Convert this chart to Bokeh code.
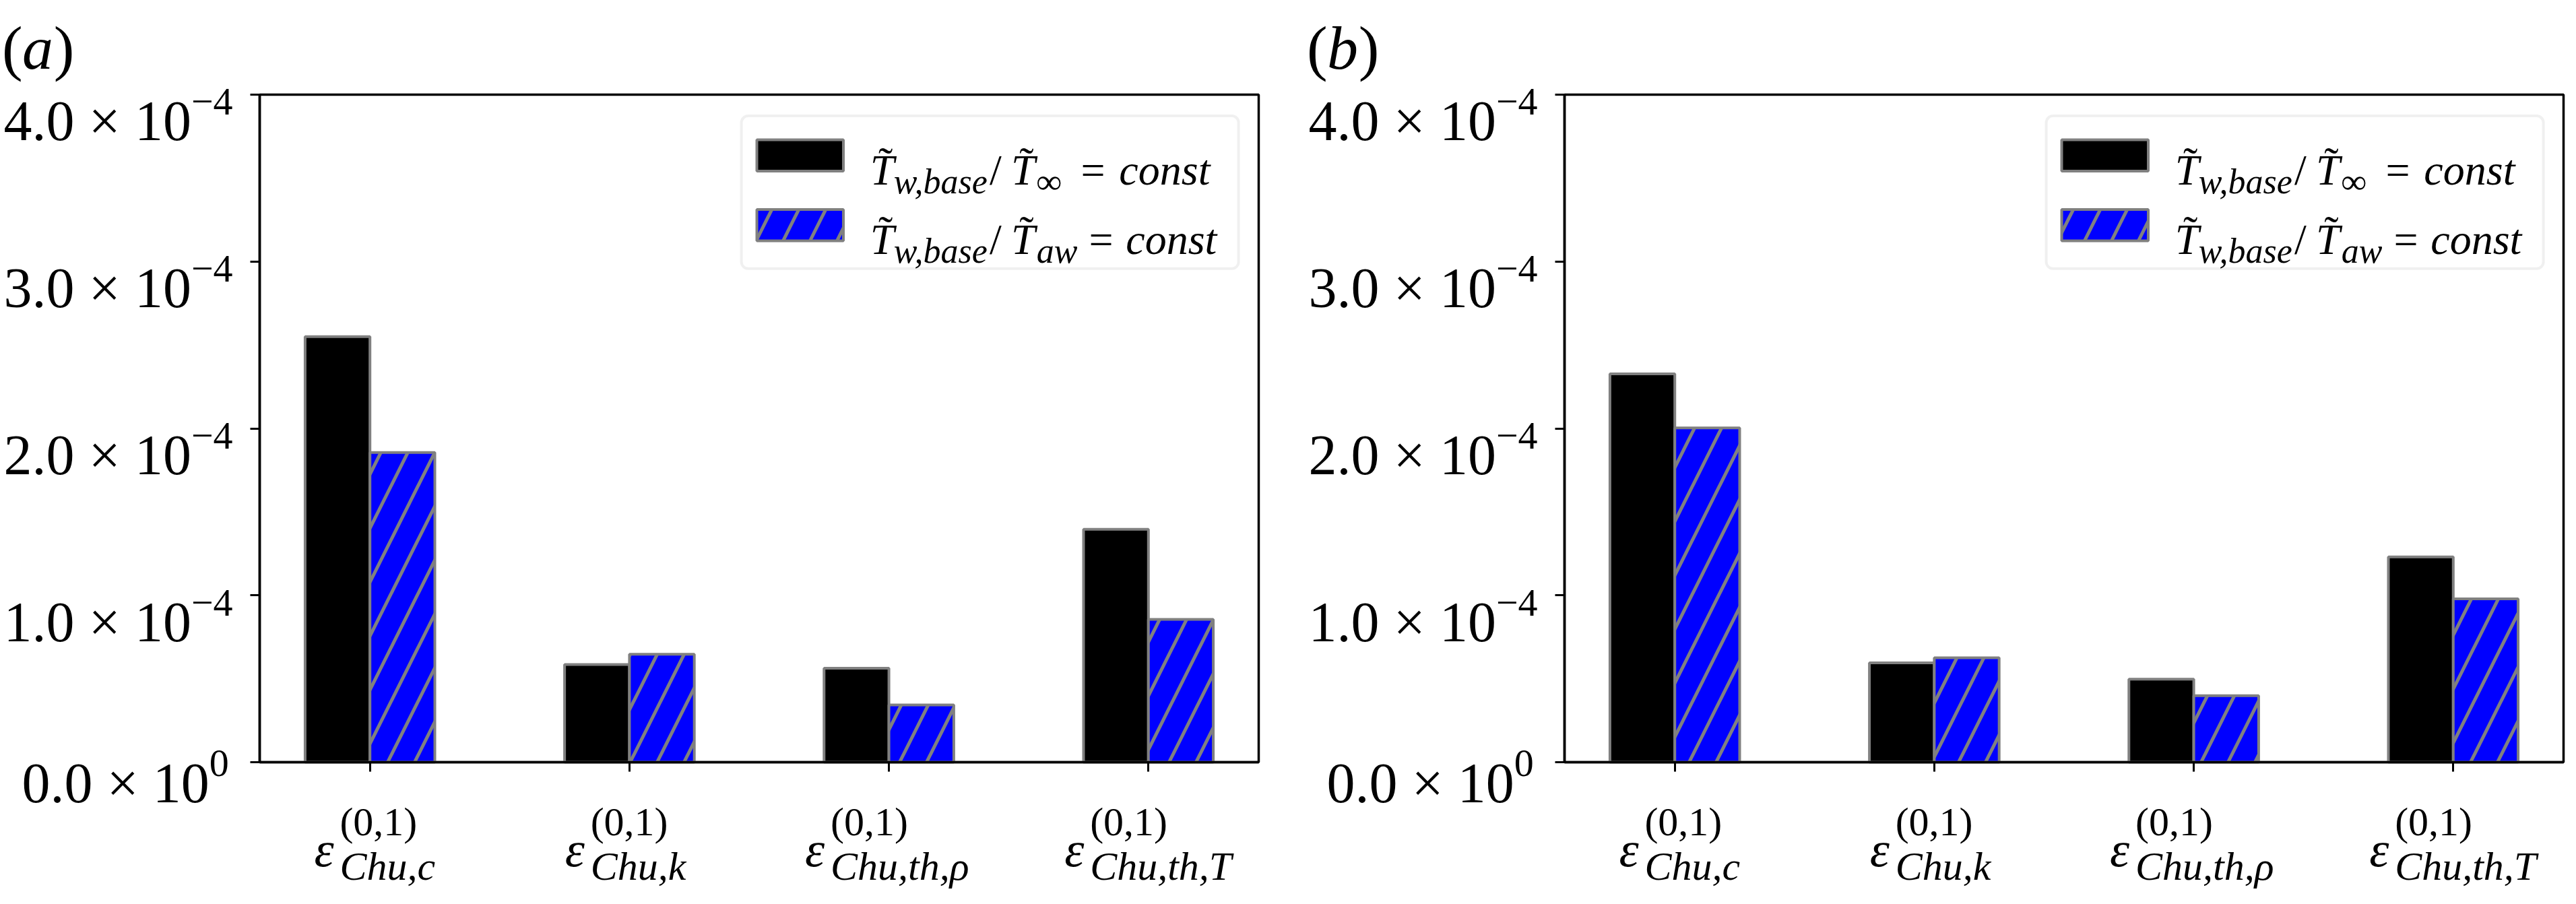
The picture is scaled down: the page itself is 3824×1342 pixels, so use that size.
import numpy as np
from bokeh.plotting import figure
from bokeh.models import Label, BoxAnnotation, Range1d, FixedTicker, CustomJSTickFormatter
from bokeh.layouts import row
from bokeh.embed import file_html
from bokeh.resources import INLINE

# ---------------- data ----------------
cat_symbol = "ε"
cat_superscript = "(0,1)"
cat_subscripts = ["Chu,c", "Chu,k", "Chu,th,ρ", "Chu,th,T"]

panel_letters = ["a", "b"]
# series 1: T_w,base / T_inf = const ; series 2: T_w,base / T_aw = const
a_const_inf = [2.55e-4, 0.585e-4, 0.563e-4, 1.396e-4]
a_const_aw = [1.856e-4, 0.647e-4, 0.343e-4, 0.856e-4]
b_const_inf = [2.327e-4, 0.595e-4, 0.497e-4, 1.230e-4]
b_const_aw = [2.003e-4, 0.626e-4, 0.399e-4, 0.979e-4]

ytick_values = [0.0, 1e-4, 2e-4, 3e-4, 4e-4]
ytick_mantissa = ["0.0", "1.0", "2.0", "3.0", "4.0"]
ytick_exponent = ["0", "−4", "−4", "−4", "−4"]

legend_rows = [
    ("w,base", "∞"),
    ("w,base", "aw"),
]

# ---------------- layout constants ----------------
FW, FH = 1483, 991            # size of the axes box in px
SX = FW / 1489                 # reference px -> our px
SY = FH / 1005
CH = 1326                      # canvas height
TOP_M = 140
BOT_M = CH - TOP_M - FH
XMIN, XMAX = -0.425, 3.425
YMIN, YMAX = 0.0, 4e-4
DX = (XMAX - XMIN) / FW
DY = (YMAX - YMIN) / FH
FONT = "Liberation Serif"
BAR_W = 0.25
HATCH_SCALE = 80
HATCH_WEIGHT = 5


def px_x(p):
    return p * SX * DX


def px_y(p):
    return p * SY * DY


def lab(fig, x, y, text, size, style="normal", align="left"):
    fig.add_layout(Label(x=x, y=y, text=text, text_font=FONT,
                         text_font_size=f"{size}px", text_font_style=style,
                         text_align=align, text_baseline="alphabetic",
                         text_color="black"))


def make_panel(letter, inf_vals, aw_vals, left_m, right_m):
    cw = left_m + FW + right_m
    p = figure(frame_width=cw, frame_height=CH,
               x_range=Range1d(XMIN - left_m * DX, XMAX + right_m * DX),
               y_range=Range1d(YMIN - BOT_M * DY, YMAX + TOP_M * DY),
               output_backend="svg", toolbar_location=None,
               min_border=0, min_border_left=0, min_border_right=0,
               min_border_top=0, min_border_bottom=0)
    p.xgrid.visible = False
    p.ygrid.visible = False
    p.outline_line_color = None
    p.background_fill_color = "white"
    p.border_fill_color = "white"

    for ax in (p.xaxis[0], p.yaxis[0]):
        ax.axis_line_width = 3.5
        ax.axis_line_color = "black"
        ax.major_tick_out = 14
        ax.major_tick_in = 0
        ax.major_tick_line_width = 3
        ax.minor_tick_out = 0
        ax.minor_tick_in = 0
        ax.formatter = CustomJSTickFormatter(code="return ''")
        ax.major_label_standoff = 0
    p.xaxis.ticker = FixedTicker(ticks=list(range(len(cat_subscripts))))
    p.yaxis.ticker = FixedTicker(ticks=ytick_values)
    p.xaxis.fixed_location = YMIN
    p.yaxis.fixed_location = XMIN
    p.xaxis.bounds = (XMIN, XMAX)
    p.yaxis.bounds = (YMIN, YMAX)

    xs = np.arange(len(cat_subscripts))
    p.vbar(x=xs - BAR_W / 2, top=inf_vals, width=BAR_W, bottom=0,
           fill_color="black", line_color="#808080", line_width=4)
    p.vbar(x=xs + BAR_W / 2, top=aw_vals, width=BAR_W, bottom=0,
           fill_color="#0000ff", line_color="#808080", line_width=4,
           hatch_pattern="/", hatch_color="#808080", hatch_weight=HATCH_WEIGHT,
           hatch_scale=HATCH_SCALE)

    # axes box (spines)
    p.add_layout(BoxAnnotation(left=XMIN, right=XMAX, bottom=YMIN, top=YMAX,
                               fill_alpha=0, line_color="black", line_width=3.5,
                               line_alpha=1.0, level="underlay"))

    # x tick labels
    eps_offsets = [-83, -96, -125, -125]
    for i, sub in enumerate(cat_subscripts):
        x0 = xs[i] + px_x(eps_offsets[i])
        lab(p, x0, YMIN - px_y(131), cat_symbol, 74, "italic")
        lab(p, x0 + px_x(38), YMIN - px_y(90), cat_superscript, 60)
        lab(p, x0 + px_x(38), YMIN - px_y(157), sub, 60, "italic")

    # y tick labels
    for v, m, e in zip(ytick_values, ytick_mantissa, ytick_exponent):
        supw = 28 if e == "0" else 55
        drop = 31 if e == "0" else 40
        xr = XMIN - px_x(47 + supw)
        lab(p, xr, v - px_y(drop), m + " × 10", 84, align="right")
        lab(p, xr, v - px_y(drop - 29), e, 58)

    # panel letter
    x0 = XMIN - px_x(384)
    yb = YMAX + px_y(70)
    lab(p, x0, yb, "(", 92)
    lab(p, x0 + px_x(30), yb, letter, 92, "italic")
    lab(p, x0 + px_x(77), yb, ")", 92)

    # legend
    L = 718
    p.add_layout(BoxAnnotation(left=XMIN + px_x(L), right=XMIN + px_x(L + 741),
                               top=YMAX - px_y(32), bottom=YMAX - px_y(262),
                               fill_color="white", fill_alpha=0.8,
                               line_color="#cccccc", line_width=4,
                               border_radius=10))
    p.add_layout(BoxAnnotation(left=XMIN + px_x(L + 23), right=XMIN + px_x(L + 152),
                               top=YMAX - px_y(68), bottom=YMAX - px_y(115),
                               fill_color="black", fill_alpha=1.0,
                               line_color="#808080", line_width=4, line_alpha=1.0))
    p.add_layout(BoxAnnotation(left=XMIN + px_x(L + 23), right=XMIN + px_x(L + 152),
                               top=YMAX - px_y(173), bottom=YMAX - px_y(220),
                               fill_color="#0000ff", fill_alpha=1.0,
                               line_color="#808080", line_width=4, line_alpha=1.0,
                               hatch_pattern="/", hatch_color="#808080",
                               hatch_weight=HATCH_WEIGHT, hatch_scale=HATCH_SCALE))
    row_base = [114, 218]
    eq_off = [506, 518]
    const_off = [563, 573]
    for r, (sub1, sub2) in enumerate(legend_rows):
        yb = YMAX - px_y(row_base[r])
        ys = YMAX - px_y(row_base[r] + 17)
        yt = YMAX - px_y(row_base[r] - 12)
        lab(p, XMIN + px_x(L + 192), yb, "T", 64, "italic")
        lab(p, XMIN + px_x(L + 215), yt, "˜", 64, align="center")
        lab(p, XMIN + px_x(L + 227), ys, sub1, 52, "italic")
        lab(p, XMIN + px_x(L + 370), yb, "/", 64)
        lab(p, XMIN + px_x(L + 402), yb, "T", 64, "italic")
        lab(p, XMIN + px_x(L + 425), yt, "˜", 64, align="center")
        lab(p, XMIN + px_x(L + 440), ys, sub2, 52, "italic")
        lab(p, XMIN + px_x(L + eq_off[r]), yb, "=", 64)
        lab(p, XMIN + px_x(L + const_off[r]), yb, "const", 64, "italic")
    return p


pa = make_panel(panel_letters[0], a_const_inf, a_const_aw, 385, 24)
pb = make_panel(panel_letters[1], b_const_inf, b_const_aw, 430, 3)
layout = row(pa, pb, spacing=0)
open("out.html", "w").write(file_html(layout, INLINE))
